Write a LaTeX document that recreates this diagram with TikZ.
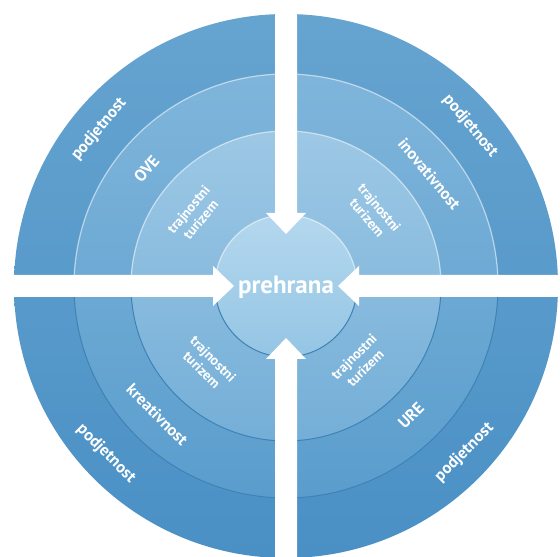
\documentclass[tikz,border=0pt]{standalone}
\usepackage{fontspec}
\setmainfont{PT Sans}
\usetikzlibrary{calc}
\definecolor{oneT}{HTML}{66A4D0}
\definecolor{oneB}{HTML}{4A90C5}
\definecolor{twoT}{HTML}{7FB5DB}
\definecolor{twoB}{HTML}{5A9DCD}
\definecolor{thrT}{HTML}{9DC8E5}
\definecolor{thrB}{HTML}{74AED7}
\definecolor{fouT}{HTML}{B4D8EE}
\definecolor{fouB}{HTML}{94C5E4}
\definecolor{edgeD}{HTML}{3F82B5}
\begin{document}
\begin{tikzpicture}[x=1pt,y=1pt,
  lbl/.style={text=white,font=\bfseries\fontsize{16.5}{18}\selectfont,align=center,inner sep=0pt},
  sml/.style={text=white,font=\bfseries\fontsize{14}{16}\selectfont,align=center,inner sep=0pt},
  big/.style={text=white,font=\bfseries\fontsize{25}{28}\selectfont,inner sep=0pt},
  lightedge/.style={draw=white,draw opacity=0.55,line width=1.2pt},
  darkedge/.style={draw=edgeD,line width=1pt},
  wedge/.style={fill=white}]
\useasboundingbox (0,0) rectangle (560,557);
\coordinate (C) at (286,271);
% rings
\shade[top color=oneT,bottom color=oneB] (C) circle (272);
\shade[top color=twoT,bottom color=twoB] (C) circle (212);
\shade[top color=thrT,bottom color=thrB] (C) circle (155);
\shade[top color=fouT,bottom color=fouB] (C) circle (71);
% ring edges
\foreach \r in {212,155,71}{
  \draw[lightedge] ($(C)+(0:\r)$) arc (0:180:\r);
  \draw[darkedge] ($(C)+(180:\r)$) arc (180:360:\r);
}
% white arrows (gaps)
\foreach \a in {0,90,180,270}{
  \fill[wedge,shift={(C)},rotate=\a]
    (-11,300) -- (-11,73) -- (-20,73) -- (0,52) -- (20,73) -- (11,73) -- (11,300) -- cycle;
}
% centre
\node[big] (hub) at ($(C)+(0,-1)$) {prehrana};
% upper left
\node[lbl,rotate=50] (ulA) at ($(C)+(140:244)$) {podjetnost};
\node[lbl,rotate=50] (ulB) at ($(C)+(140:182)$) {OVE};
\node[sml,rotate=50] (ulC) at ($(C)+(142:116)$) {trajnostni\\turizem};
% upper right
\node[lbl,rotate=-50] (urA) at ($(C)+(41:244)$) {podjetnost};
\node[lbl,rotate=-50] (urB) at ($(C)+(38:182)$) {inovativnost};
\node[sml,rotate=-50] (urC) at ($(C)+(40:114)$) {trajnostni\\turizem};
% lower left
\node[lbl,rotate=-45] (llA) at ($(C)+(223:246)$) {podjetnost};
\node[lbl,rotate=-45] (llB) at ($(C)+(225:182)$) {kreativnost};
\node[sml,rotate=-45] (llC) at ($(C)+(225:111)$) {trajnostni\\turizem};
% lower right
\node[lbl,rotate=45] (lrA) at ($(C)+(-43:244)$) {podjetnost};
\node[lbl,rotate=45] (lrB) at ($(C)+(-46:180)$) {URE};
\node[sml,rotate=45] (lrC) at ($(C)+(-46:106)$) {trajnostni\\turizem};
\end{tikzpicture}
\end{document}
